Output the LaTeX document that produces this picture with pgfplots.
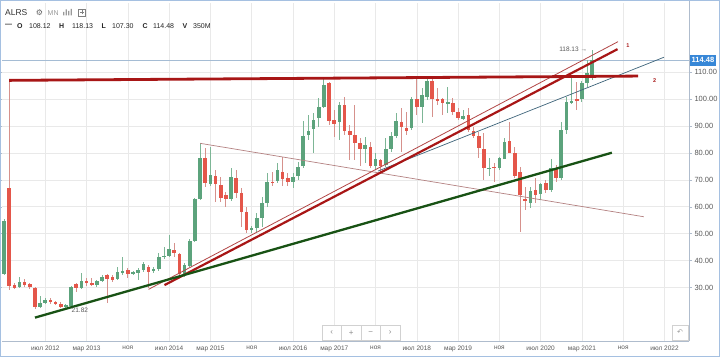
\documentclass[border=0pt]{standalone}
\usepackage{pgfplots}
\pgfplotsset{compat=1.18}
\usepackage{pgfplotstable}
\usepackage{fontspec}
\setmainfont{Liberation Sans}
\newfontfamily\dejavu{DejaVu Sans}
\definecolor{cgreen}{RGB}{92,163,124}
\definecolor{cgreenw}{RGB}{125,182,150}
\definecolor{cred}{RGB}{228,86,74}
\definecolor{credw}{RGB}{214,145,140}
\definecolor{gridc}{RGB}{233,233,233}
\definecolor{framec}{RGB}{165,192,225}
\definecolor{lred}{RGB}{168,22,22}
\definecolor{thinred}{RGB}{178,70,70}
\definecolor{dgreen}{RGB}{24,82,20}
\definecolor{bluel}{RGB}{62,100,122}
\definecolor{brownl}{RGB}{180,130,130}
\definecolor{priceblue}{RGB}{55,135,215}
\definecolor{pline}{RGB}{165,188,212}
\definecolor{txt}{RGB}{90,90,90}
\definecolor{axc}{RGB}{175,188,205}

\pgfplotstableread{
m o h l c
-8 35.0 55.5 34.5 54.7
-5 30.1 34.0 29.8 32.2
-1 22.9 26.8 22.4 24.3
0 24.3 26.0 23.9 25.3
4 22.9 23.8 21.82 23.4
5 23.1 30.6 22.9 30.1
7 29.9 35.5 29.6 32.4
10 30.8 32.8 30.3 32.3
11 32.4 34.6 32.2 34.0
14 33.0 37.7 32.8 35.8
15 35.6 41.3 34.6 35.9
17 35.0 36.3 34.6 35.8
18 35.4 37.1 32.8 36.6
19 36.6 39.6 35.9 38.6
21 36.1 37.8 35.3 36.9
22 36.9 42.7 36.2 41.4
23 41.3 45.2 40.6 41.8
24 41.8 49.5 41.5 44.2
27 35.0 39.2 34.0 38.4
28 38.0 48.0 37.5 47.4
29 47.4 63.4 47.0 62.9
30 62.9 83.6 62.5 78.3
32 68.5 82.4 67.8 71.8
36 62.9 74.3 62.3 71.0
40 51.4 52.8 50.2 52.1
41 52.0 57.6 50.7 55.7
42 55.7 63.8 52.6 61.5
43 61.3 72.5 60.0 69.3
45 69.7 76.2 69.0 73.7
48 69.1 72.5 66.9 71.2
49 71.5 76.8 70.0 74.9
50 75.2 91.9 74.6 86.3
51 86.7 94.1 84.8 88.3
52 88.8 94.8 79.9 92.3
53 92.9 100.3 89.8 97.2
54 97.2 107.8 96.6 105.3
57 91.6 99.1 84.8 97.8
62 81.4 86.1 76.2 83.0
64 75.2 79.9 73.7 77.7
66 75.5 85.5 74.9 81.4
67 81.4 87.9 80.5 86.3
68 86.3 94.8 85.5 91.9
71 89.2 100.9 88.5 100.0
73 97.2 104.0 91.0 101.6
74 100.9 107.8 99.7 106.9
78 98.5 104.6 94.8 98.8
81 92.5 96.0 92.3 93.9
86 74.2 78.0 71.4 74.5
88 74.5 78.6 73.7 78.0
89 77.9 85.7 77.6 84.2
94 61.5 67.5 59.4 66.0
96 64.8 68.7 62.5 68.4
98 66.2 77.7 65.6 74.3
100 70.6 91.6 69.9 88.5
101 88.5 100.9 87.0 99.1
102 98.7 109.0 98.2 99.3
104 100.0 106.9 99.1 105.9
105 106.1 114.6 104.6 109.6
106 108.12 118.13 107.30 114.48
}\greentab

\pgfplotstableread{
m o h l c
-7 66.9 107.0 29.0 30.6
-6 30.9 31.6 29.3 29.9
-4 31.9 33.0 30.3 31.0
-3 31.2 31.6 29.6 30.1
-2 29.9 30.2 22.1 22.9
1 25.5 26.1 23.8 24.5
2 24.7 25.0 23.5 23.9
3 23.9 24.7 22.4 22.9
6 31.2 31.6 28.4 29.9
8 32.4 33.5 30.6 31.8
9 31.6 33.4 30.7 30.9
12 34.5 35.2 24.1 33.3
13 33.8 34.7 32.1 32.8
16 36.5 37.1 33.4 35.0
20 37.7 38.5 29.7 35.9
25 43.9 46.4 41.4 42.7
26 42.5 43.0 33.4 35.0
31 78.0 82.0 67.5 68.7
33 71.4 73.7 61.9 68.5
34 68.1 71.2 61.9 63.2
35 64.4 65.6 60.0 62.9
37 70.8 73.7 63.2 65.0
38 65.2 67.0 52.6 58.2
39 58.2 60.0 50.1 51.4
44 69.3 73.1 67.7 69.0
46 73.0 78.6 67.7 70.2
47 70.6 72.5 67.7 69.2
55 106.1 106.5 90.4 91.9
56 92.3 96.0 86.1 90.8
58 97.8 100.9 86.7 88.2
59 88.2 90.4 77.4 86.7
60 86.7 97.8 77.4 83.6
61 83.6 85.5 75.2 81.4
63 82.1 84.2 74.3 75.2
65 77.4 77.6 73.0 75.2
69 91.6 96.6 80.5 89.6
70 89.2 95.4 86.7 88.3
72 100.0 108.4 94.1 97.2
75 106.9 108.4 93.5 100.0
76 100.0 104.1 97.8 99.4
77 100.0 100.3 94.1 98.5
79 98.5 100.3 94.1 95.4
80 95.4 96.6 92.3 92.9
82 94.1 96.6 87.9 88.5
83 88.3 89.8 85.5 86.3
84 86.3 87.9 78.0 81.7
85 81.4 87.3 70.0 74.3
87 74.9 76.2 69.3 74.4
90 84.5 91.6 79.9 80.1
91 79.9 82.3 70.6 71.4
92 73.0 74.9 50.7 64.4
93 62.8 67.5 58.8 62.3
95 66.2 70.6 61.3 64.4
97 68.7 70.0 65.0 66.2
99 74.3 75.5 69.3 70.6
103 100.0 106.5 96.0 99.4
}\redtab

\pgfplotsset{
  candle/.style n args={2}{only marks, mark=*, mark size=0.1pt,
    mark options={draw opacity=0, fill opacity=0},
    error bars/.cd, y dir=both, y explicit, error mark=none,
    error bar style={line width=#1, #2}},
}

\begin{document}
\begin{tikzpicture}[x=1pt,y=1pt]
\useasboundingbox (0,0) rectangle (720,357);
\fill[white] (0,0) rectangle (720,357);
\begin{axis}[
  at={(2pt,16pt)}, anchor=south west,
  scale only axis, width=687pt, height=338pt,
  xmin=-8.39, xmax=124.75, ymin=10.11, ymax=135.76,
  axis line style={draw=none},
  xtick={0,8,...,120},
  xticklabels={июл 2012, мар 2013, ноя, июл 2014, мар 2015, ноя, июл 2016, мар 2017, ноя, июл 2018, мар 2019, ноя, июл 2020, мар 2021, ноя, июл 2022},
  x tick label style={font=\fontsize{6.5}{7}\selectfont, text=txt, yshift=-1pt},
  xtick style={draw=none},
  ytick={30,40,...,110},
  yticklabel pos=right,
  ytick align=outside, major tick length=3pt,
  ytick style={draw=axc, line width=0.5pt},
  y tick label style={font=\fontsize{7.5}{8}\selectfont, text=txt, xshift=-1pt,
    /pgf/number format/.cd, fixed, fixed zerofill, precision=2, assume math mode=true},
  grid=major, grid style={gridc, line width=0.6pt},
  clip=true,
]
% price line
\addplot[pline, line width=0.6pt] coordinates {(-8.39,114.48) (124.75,114.48)};
% wicks
\addplot[candle={0.9pt}{cgreenw}]
  table[x=m, y expr=(\thisrow{h}+\thisrow{l})/2, y error expr=(\thisrow{h}-\thisrow{l})/2] {\greentab};
\addplot[candle={0.9pt}{credw}]
  table[x=m, y expr=(\thisrow{h}+\thisrow{l})/2, y error expr=(\thisrow{h}-\thisrow{l})/2] {\redtab};
% bodies
\addplot[candle={3.6pt}{cgreen}]
  table[x=m, y expr=(\thisrow{o}+\thisrow{c})/2, y error expr={max(abs(\thisrow{c}-\thisrow{o})/2,0.25)}] {\greentab};
\addplot[candle={3.6pt}{cred}]
  table[x=m, y expr=(\thisrow{o}+\thisrow{c})/2, y error expr={max(abs(\thisrow{c}-\thisrow{o})/2,0.25)}] {\redtab};
% trend lines
\addplot[brownl, line width=0.7pt] coordinates {(30.0,83.6) (116.0,56.3)};
\addplot[bluel, line width=0.7pt] coordinates {(64.5,73.3) (119.9,115.6)};
\addplot[thinred, line width=0.8pt] coordinates {(20.0,29.3) (111.0,121.4)};
\addplot[lred, line width=2.2pt] coordinates {(23.1,30.9) (110.9,118.6)};
\addplot[dgreen, line width=2.3pt] coordinates {(-2.0,18.8) (109.8,80.1)};
\addplot[lred, line width=2.8pt] coordinates {(-7.0,107.0) (114.9,108.6)};
% annotations
\node[font=\fontsize{6.5}{7}\selectfont, text=txt] at (axis cs:6.7,21.5) {21.82};
\node[font=\fontsize{6.5}{7}\selectfont, text=txt] at (axis cs:102.3,118.4) {118.13 →};
\node[font=\bfseries\fontsize{5.5}{6}\selectfont, text=lred] at (axis cs:112.9,119.8) {1};
\node[font=\bfseries\fontsize{5.5}{6}\selectfont, text=lred] at (axis cs:118.1,107.1) {2};
\coordinate (PL) at (axis cs:124.75,114.48);
\end{axis}
% axis lines
\draw[axc, line width=0.6pt] (689,16) -- (689,357);
\draw[axc, line width=0.6pt] (2,16) -- (689,16);
% price box
\node[fill=priceblue, text=white, font=\bfseries\fontsize{7.5}{8}\selectfont, inner sep=1.5pt, anchor=west, minimum height=11pt] at ([xshift=1pt]PL) {114.48};
% nav buttons
\draw[black!18, fill=white, line width=0.5pt] (322,16.5) rectangle (400,32);
\foreach \xx in {341.5,361,380.5} \draw[black!18, line width=0.5pt] (\xx,16.5) -- (\xx,32);
\node[text=black!45, font=\fontsize{8}{8}\selectfont] at (331.7,24.2) {‹};
\node[text=black!45, font=\fontsize{8}{8}\selectfont] at (351.2,24.2) {+};
\node[text=black!45, font=\fontsize{8}{8}\selectfont] at (370.7,24.2) {−};
\node[text=black!45, font=\fontsize{8}{8}\selectfont] at (390.2,24.2) {›};
\draw[black!18, fill=white, line width=0.5pt] (672,17) rectangle (688,32);
\node[text=black!40, font=\dejavu\fontsize{7}{7}\selectfont] at (680,24.5) {↶};
% header
\node[anchor=west, font=\fontsize{8.5}{9}\selectfont, text=black!80, inner sep=0] at (5,344.7) {ALRS};
\node[font=\dejavu\fontsize{8}{8}\selectfont, text=black!60, inner sep=0] at (39.5,344.7) {⚙};
\node[anchor=west, font=\fontsize{7}{8}\selectfont, text=black!40, inner sep=0] at (47.5,344.2) {MN};
\fill[black!40] (63,341.5) rectangle (64.3,345) (65.5,341.5) rectangle (66.8,347.5) (68,341.5) rectangle (69.3,346) (70.5,341.5) rectangle (71.8,348);
\draw[black!50, line width=0.6pt] (78.5,341) rectangle (85.5,348);
\draw[black!50, line width=0.6pt] (82,342.5) -- (82,346.5) (80,344.5) -- (84,344.5);
\begin{scope}[every node/.style={anchor=west, inner sep=0, font=\fontsize{7}{8}\selectfont, text=black!85}]
\node[font=\bfseries\fontsize{7}{8}\selectfont] at (5,331.3) {—};
\node[font=\bfseries\fontsize{7}{8}\selectfont] at (17,331.3) {O};
\node at (29,331.3) {108.12};
\node[font=\bfseries\fontsize{7}{8}\selectfont] at (59,331.3) {H};
\node at (72,331.3) {118.13};
\node[font=\bfseries\fontsize{7}{8}\selectfont] at (101.5,331.3) {L};
\node at (112,331.3) {107.30};
\node[font=\bfseries\fontsize{7}{8}\selectfont] at (142.5,331.3) {C};
\node at (153,331.3) {114.48};
\node[font=\bfseries\fontsize{7}{8}\selectfont] at (182.5,331.3) {V};
\node at (193,331.3) {350M};
\end{scope}
% frame
\draw[framec, line width=1.2pt] (0.6,0.6) rectangle (719.4,356.4);
\end{tikzpicture}
\end{document}
